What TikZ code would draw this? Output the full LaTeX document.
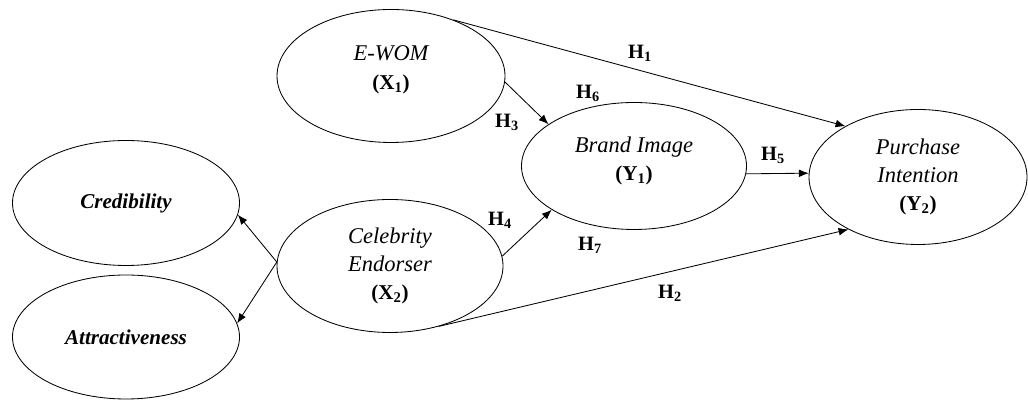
\documentclass[tikz,border=0pt]{standalone}
\usepackage{fontspec}
\setmainfont{Liberation Serif}
\usetikzlibrary{shapes.geometric,arrows.meta}
\newcommand{\vname}[1]{{\mdseries\itshape\fontsize{16}{20}\selectfont #1}}

\begin{document}
\begin{tikzpicture}[
        var/.style={ellipse, draw, line width=0.6pt, inner sep=0pt, align=center,
            font=\fontsize{15}{20}\selectfont\bfseries},
        hyp/.style={font=\fontsize{14.5}{16}\selectfont\bfseries, inner sep=1pt}
    ]
        \useasboundingbox (0,0) rectangle (25.7,10);
        % constructs
        \node[var, minimum width=5.7cm, minimum height=3.325cm] (ewom) at (9.775,8.1)
            {\vname{E-WOM}\\(X\textsubscript{1})\\[-8pt]\mbox{}};
        \node[var, minimum width=5.675cm, minimum height=3.125cm] (cred) at (3.15,4.925)
            {\itshape Credibility};
        \node[var, minimum width=5.675cm, minimum height=3.1cm] (attr) at (3.15,1.575)
            {\itshape Attractiveness};
        \node[var, minimum width=5.65cm, minimum height=3.325cm] (celeb) at (9.75,3.35)
            {\vname{Celebrity}\\\vname{Endorser}\\(X\textsubscript{2})};
        \node[var, minimum width=5.625cm, minimum height=3.175cm] (brand) at (15.85,5.85)
            {\vname{Brand Image}\\(Y\textsubscript{1})\\[-10pt]\mbox{}};
        \node[var, minimum width=5.45cm, minimum height=3.375cm] (purchase) at (22.95,5.575)
            {\vname{Purchase}\\\vname{Intention}\\(Y\textsubscript{2})};
        % paths
        \foreach \a/\b in {ewom.42/purchase.145, ewom.-3/brand.154, celeb.5/brand.208,
            brand.-4/purchase.178, celeb.-51/purchase.217, celeb.178/cred.-6, celeb.178/attr.7}
        {%
            \draw[-{Latex[length=7pt,width=5.5pt]}, line width=0.6pt] (\a) -- (\b);
        }%
        \foreach \n/\x/\y in {1/16.0/8.675, 2/16.75/2.675, 3/12.675/6.95, 4/12.5/4.5,
            5/19.325/6.125, 6/14.7/7.675, 7/14.75/3.875}
        {%
            \node[hyp] (h\n) at (\x,\y) {H\textsubscript{\n}};
        }%
    \end{tikzpicture}
\end{document}
